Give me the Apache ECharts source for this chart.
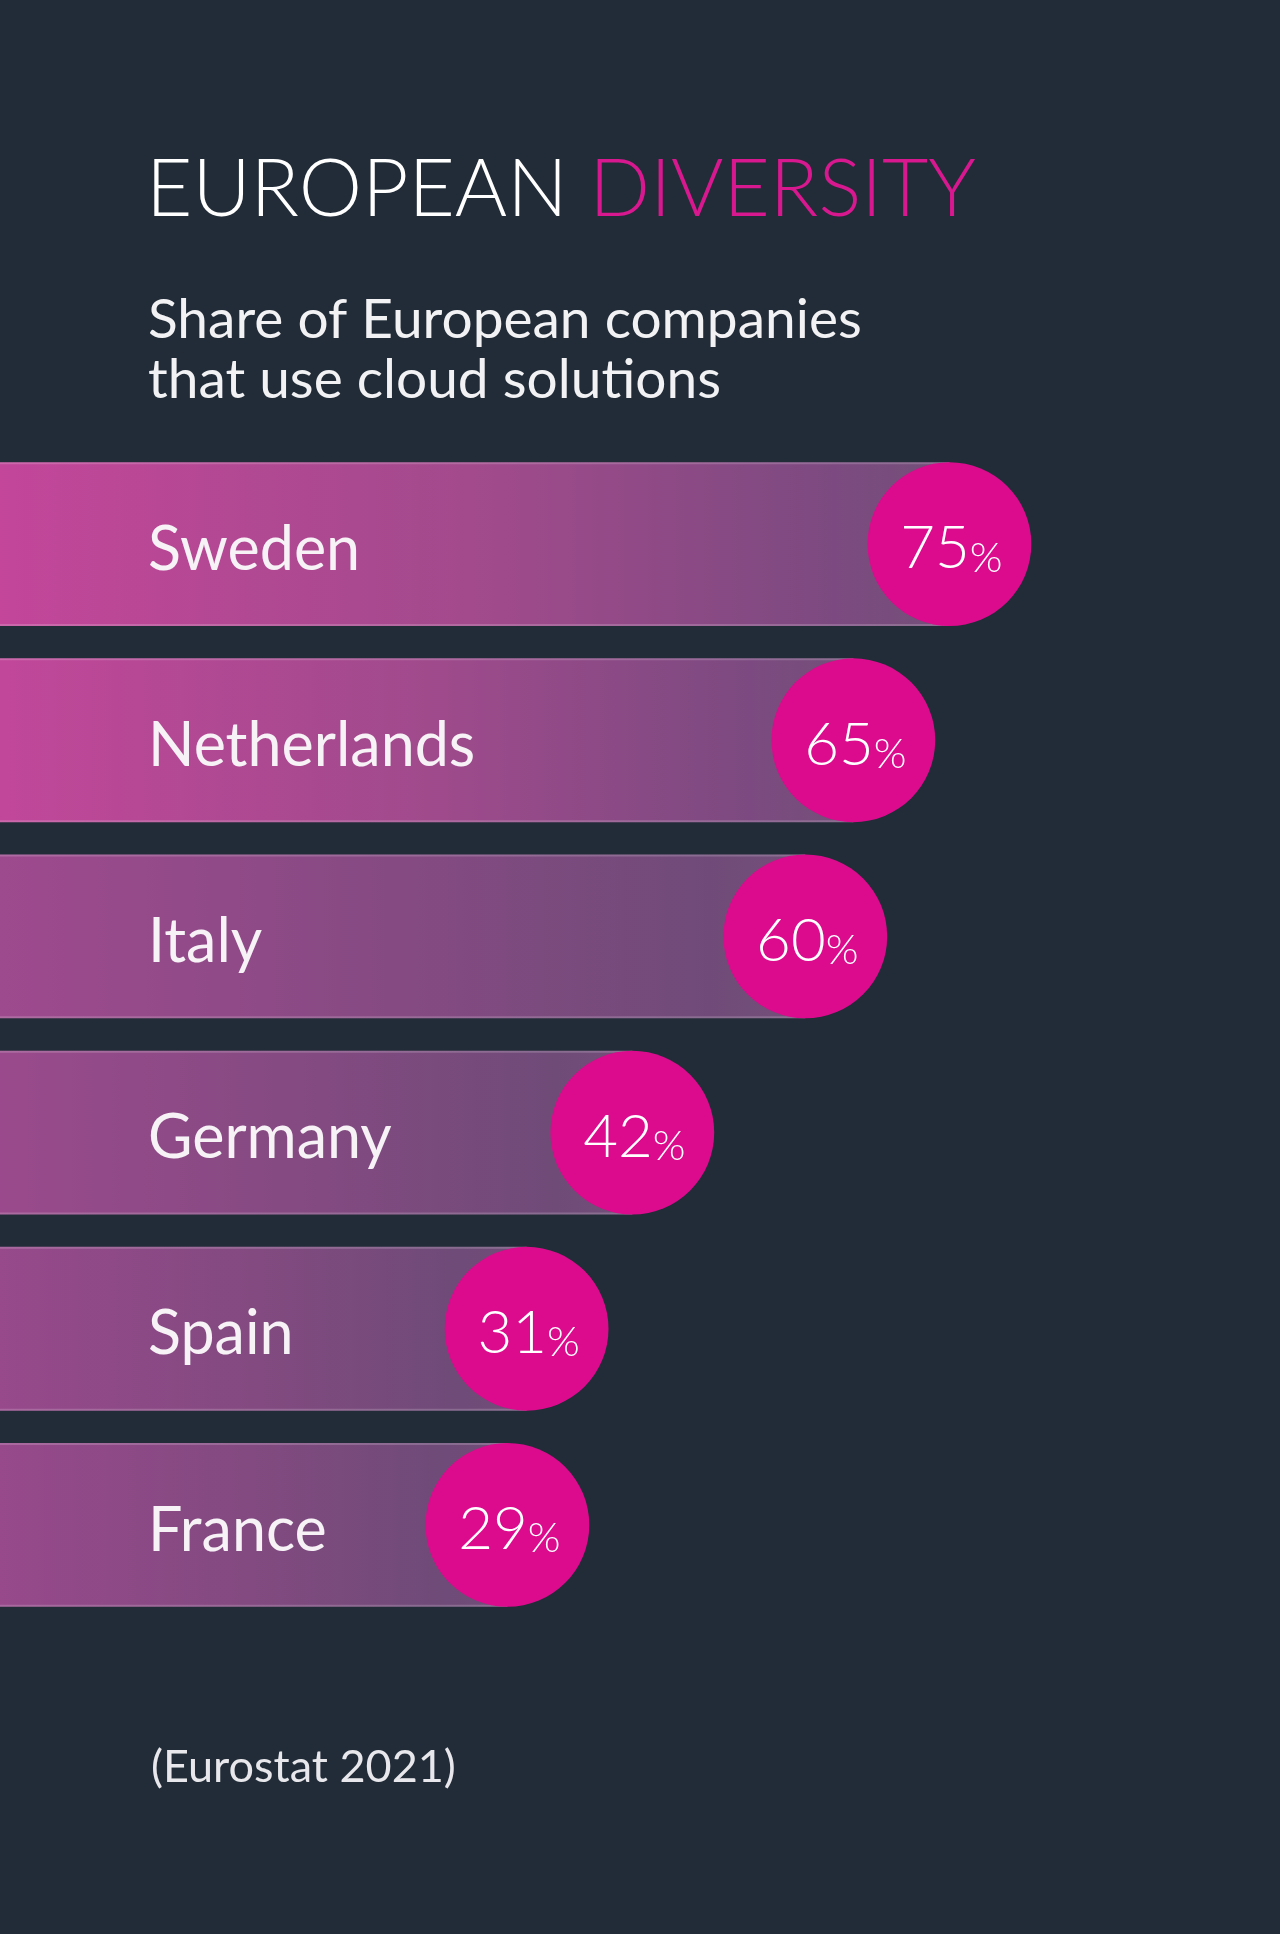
<!DOCTYPE html>
<html>
<head>
<meta charset="utf-8">
<script src="https://cdn.jsdelivr.net/npm/echarts@6/dist/echarts.min.js"></script>
<style>
html,body{margin:0;padding:0;background:#212c38;}
#chart{width:1280px;height:1934px;}
</style>
</head>
<body>
<div id="chart"></div>
<script>
// ---- data ----
var countries = ['Sweden', 'Netherlands', 'Italy', 'Germany', 'Spain', 'France'];
var shares = [75, 65, 60, 42, 31, 29];
var titleMain = 'EUROPEAN';
var titleAccent = 'DIVERSITY';
var subtitleLines = ['Share of European companies', 'that use cloud solutions'];
var sourceNote = '(Eurostat 2021)';

// ---- styles ----
var barStartColors = ['#c3469a', '#c1479a', '#9e4a8e', '#9a4a8c', '#97498b', '#97498b'];
var barMidColors = ['#a24a8c', '#a04a8c', '#854a82', '#834a81', '#824a80', '#824a80'];
var barEndColors = ['#7c4a80', '#7c4a80', '#704b79', '#6f4b78', '#6e4b78', '#6e4b78'];
var xMin = -23.8, xMax = 109.4;

var chart = echarts.init(document.getElementById('chart'), null, {renderer: 'canvas'});

var option = {
  backgroundColor: '#212c38',
  animation: false,
  title: [
    {
      text: '{a|' + titleMain + ' }{b|' + titleAccent + '}',
      left: 146, top: 149, padding: 0,
      textStyle: {
        rich: {
          a: {fontFamily: 'Lato', fontWeight: 300, fontSize: 80, color: '#ffffff', lineHeight: 82},
          b: {fontFamily: 'Lato', fontWeight: 300, fontSize: 80, color: '#d8188f', lineHeight: 82}
        }
      }
    },
    {
      text: subtitleLines.join('\n'),
      left: 148, top: 290, padding: 0,
      textStyle: {fontFamily: 'Lato', fontWeight: 400, fontSize: 55, lineHeight: 60, color: '#f2f2f4'}
    },
    {
      text: sourceNote,
      left: 151, top: 1744, padding: 0,
      textStyle: {fontFamily: 'Lato', fontWeight: 400, fontSize: 45, lineHeight: 46, color: '#e8e8ec'}
    }
  ],
  grid: {left: 0, right: 0, top: 446, bottom: 311, containLabel: false},
  xAxis: {type: 'value', min: xMin, max: xMax, show: false},
  yAxis: {type: 'category', data: countries, inverse: true, show: false},
  series: [{
    type: 'custom',
    clip: false,
    data: shares.map(function (v, i) { return [v, countries[i]]; }),
    encode: {x: 0, y: 1},
    renderItem: function (params, api) {
      var i = params.dataIndex;
      var v = api.value(0);
      var end = api.coord([v, i]);
      var start = api.coord([xMin, i]);
      var h = api.size([0, 1])[1] * 0.835;
      var r = h / 2;
      var cy = end[1];
      return {
        type: 'group',
        children: [
          {
            type: 'rect',
            shape: {x: start[0], y: cy - r, width: end[0] - start[0], height: h},
            style: {
              fill: {
                type: 'linear', x: 0, y: 0, x2: 1, y2: 0,
                colorStops: [
                  {offset: 0, color: barStartColors[i]},
                  {offset: 0.5, color: barMidColors[i]},
                  {offset: 0.88, color: barEndColors[i]},
                  {offset: 1, color: '#735079'}
                ]
              }
            }
          },
          {
            type: 'rect',
            shape: {x: start[0], y: cy - r, width: end[0] - start[0], height: 2},
            style: {fill: 'rgba(255,255,255,0.18)'}
          },
          {
            type: 'rect',
            shape: {x: start[0], y: cy + r - 2, width: end[0] - start[0], height: 2},
            style: {fill: 'rgba(255,255,255,0.18)'}
          },
          {
            type: 'circle',
            shape: {cx: end[0], cy: cy, r: r},
            style: {fill: '#dc0b8d'}
          },
          {
            type: 'text',
            style: {
              text: '{n|' + v + '}{p|%}',
              x: end[0] + 2, y: cy + 4,
              align: 'center', verticalAlign: 'middle',
              rich: {
                n: {fontFamily: 'Lato', fontWeight: 300, fontSize: 60, fill: '#ffffff', color: '#ffffff', verticalAlign: 'bottom', lineHeight: 62},
                p: {fontFamily: 'Lato', fontWeight: 300, fontSize: 42, fill: '#ffffff', color: '#ffffff', verticalAlign: 'bottom', lineHeight: 54}
              }
            }
          },
          {
            type: 'text',
            style: {
              text: countries[i],
              x: 148, y: cy + 6,
              align: 'left', verticalAlign: 'middle',
              fontFamily: 'Lato', fontWeight: 400, fontSize: 61,
              fill: '#f6f2f6'
            }
          }
        ]
      };
    }
  }]
};
chart.setOption(option);
</script>
</body>
</html>
